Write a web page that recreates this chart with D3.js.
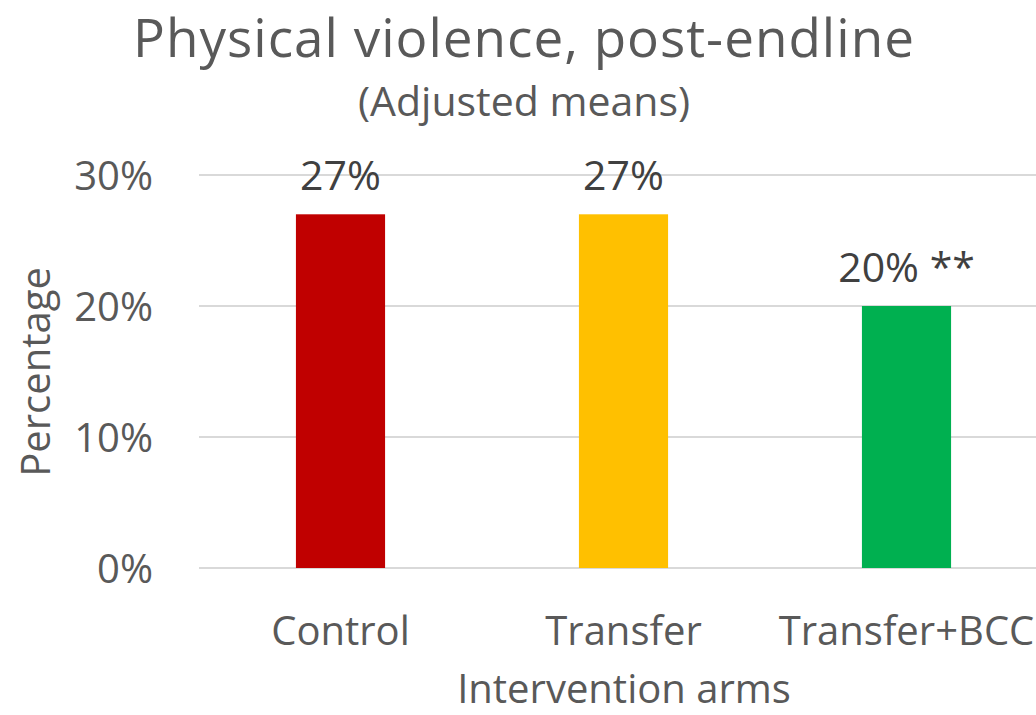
<!DOCTYPE html>
<html lang="en">

<head>
  <meta charset="UTF-8" />
  <script src="https://d3js.org/d3.v7.min.js"></script>
  <style>
    body {
      margin: 0;
      background-color: #ffffff;
      overflow: hidden;
    }

    svg {
      display: block;
      font-family: "Open Sans", sans-serif;
    }
  </style>
</head>

<body>
  <svg></svg>

  <script>
    const width = 1036;
    const height = 715;

    // chart data
    const categories = ["Control", "Transfer", "Transfer+BCC"];
    const values = [27, 27, 20];
    const valueLabels = ["27%", "27%", "20% **"];
    const barColors = ["#C00000", "#FFC000", "#00B050"];
    const yTicks = [0, 10, 20, 30];

    const svg = d3.select("svg")
      .attr("width", width)
      .attr("height", height);

    const plot = { left: 199, right: 1048, top: 175, bottom: 568 };

    const x = d3.scaleBand()
      .domain(categories)
      .range([plot.left, plot.right])
      .paddingInner(0.685)
      .paddingOuter(0.3425);

    const y = d3.scaleLinear()
      .domain([0, 30])
      .range([plot.bottom, plot.top]);

    // gridlines
    svg.append("g")
      .selectAll("line")
      .data(yTicks)
      .join("line")
      .attr("x1", plot.left)
      .attr("x2", plot.right)
      .attr("y1", d => y(d))
      .attr("y2", d => y(d))
      .attr("stroke", "#d9d9d9")
      .attr("stroke-width", 2);

    // y tick labels
    svg.append("g")
      .selectAll("text")
      .data(yTicks)
      .join("text")
      .attr("x", 153)
      .attr("y", d => y(d) + 15)
      .attr("text-anchor", "end")
      .attr("fill", "#595959")
      .style("font-size", "40px")
      .text(d => d + "%");

    // bars
    svg.append("g")
      .selectAll("rect")
      .data(categories)
      .join("rect")
      .attr("x", d => x(d))
      .attr("width", x.bandwidth())
      .attr("y", (d, i) => y(values[i]))
      .attr("height", (d, i) => y(0) - y(values[i]))
      .attr("fill", (d, i) => barColors[i]);

    // value labels
    svg.append("g")
      .selectAll("text")
      .data(categories)
      .join("text")
      .attr("x", d => x(d) + x.bandwidth() / 2)
      .attr("y", (d, i) => y(values[i]) - 24)
      .attr("text-anchor", "middle")
      .attr("fill", "#404040")
      .style("font-size", "41px")
      .text((d, i) => valueLabels[i]);

    // category labels
    svg.append("g")
      .selectAll("text")
      .data(categories)
      .join("text")
      .attr("x", d => x(d) + x.bandwidth() / 2)
      .attr("y", 645)
      .attr("text-anchor", "middle")
      .attr("fill", "#595959")
      .style("font-size", "40px")
      .text(d => d);

    // titles
    svg.append("text")
      .attr("x", 524)
      .attr("y", 57)
      .attr("text-anchor", "middle")
      .attr("fill", "#595959")
      .style("font-size", "53px")
      .style("letter-spacing", "1px")
      .text("Physical violence, post-endline");

    svg.append("text")
      .attr("x", 524)
      .attr("y", 116)
      .attr("text-anchor", "middle")
      .attr("fill", "#595959")
      .style("font-size", "41px")
      .text("(Adjusted means)");

    svg.append("text")
      .attr("x", 624)
      .attr("y", 703)
      .attr("text-anchor", "middle")
      .attr("fill", "#595959")
      .style("font-size", "40px")
      .text("Intervention arms");

    svg.append("text")
      .attr("transform", "translate(50,372) rotate(-90)")
      .attr("text-anchor", "middle")
      .attr("fill", "#595959")
      .style("font-size", "40px")
      .text("Percentage");
  </script>
</body>

</html>
